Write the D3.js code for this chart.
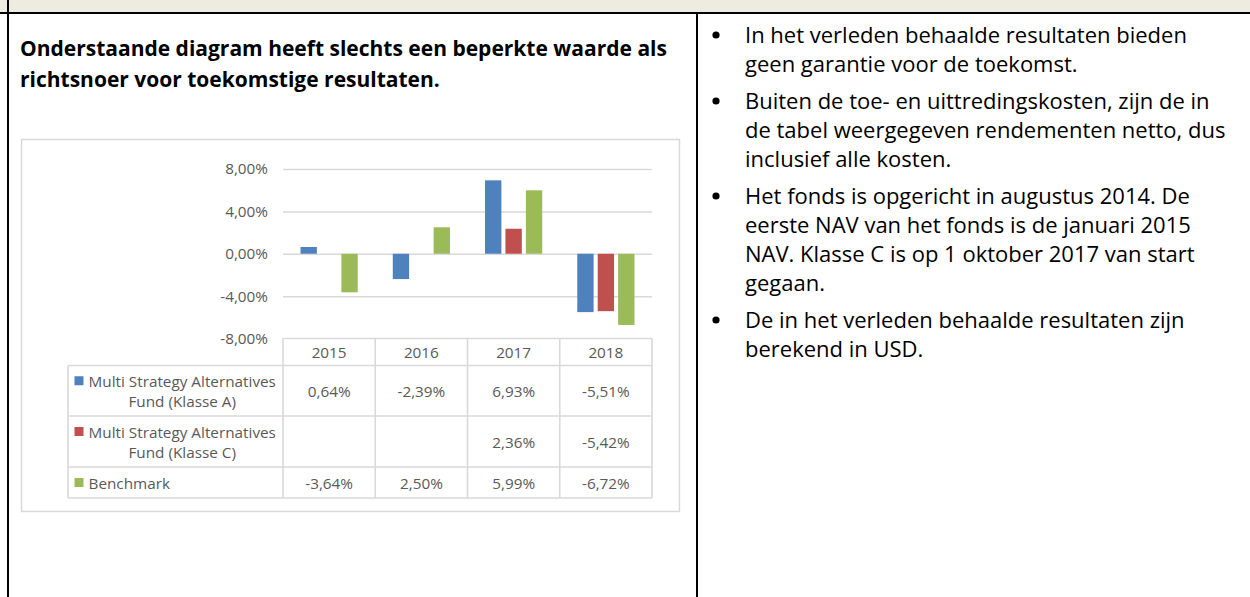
<!DOCTYPE html>
<html>
<head>
<meta charset="utf-8">
<script src="https://cdn.jsdelivr.net/npm/d3@7"></script>
<style>
  body { margin: 0; background: #fff; }
  svg { display: block; }
</style>
</head>
<body>
<div class="layout"></div>
<script>
// chart data
var years = ["2015", "2016", "2017", "2018"];
var seriesNames = [
  ["Multi Strategy Alternatives", "Fund (Klasse A)"],
  ["Multi Strategy Alternatives", "Fund (Klasse C)"],
  ["Benchmark"]
];
var seriesColors = ["#4f81bd", "#c0504d", "#9bbb59"];
var klasseA = [0.64, -2.39, 6.93, -5.51];
var klasseC = [null, null, 2.36, -5.42];
var benchmark = [-3.64, 2.50, 5.99, -6.72];
var yTicks = [-8, -4, 0, 4, 8];

var headingLines = [
  "Onderstaande diagram heeft slechts een beperkte waarde als",
  "richtsnoer voor toekomstige resultaten."
];
var bulletLines = [
  ["In het verleden behaalde resultaten bieden", "geen garantie voor de toekomst."],
  ["Buiten de toe- en uittredingskosten, zijn de in", "de tabel weergegeven rendementen netto, dus", "inclusief alle kosten."],
  ["Het fonds is opgericht in augustus 2014. De", "eerste NAV van het fonds is de januari 2015", "NAV. Klasse C is op 1 oktober 2017 van start", "gegaan."],
  ["De in het verleden behaalde resultaten zijn", "berekend in USD."]
];

var allSeries = [klasseA, klasseC, benchmark];

// dutch number format
var nl = d3.formatLocale({decimal: ",", thousands: ".", grouping: [3], currency: ["€", ""], minus: "-"});
var fmt = function (v) { return nl.format(".2f")(v) + "%"; };

var width = 1250, height = 597;
var svg = d3.select("div.layout")
  .append("svg")
  .attr("width", width)
  .attr("height", height)
  .style("font-family", "'Open Sans', sans-serif");

// page frame
svg.append("rect").attr("x", 0).attr("y", 0).attr("width", width).attr("height", 12).attr("fill", "#eeece1");
svg.append("rect").attr("x", 0).attr("y", 12).attr("width", width).attr("height", 2).attr("fill", "#000");
svg.append("rect").attr("x", 7).attr("y", 0).attr("width", 2).attr("height", height).attr("fill", "#000");
svg.append("rect").attr("x", 696).attr("y", 13).attr("width", 2).attr("height", height).attr("fill", "#000");

// heading
svg.selectAll("text.heading")
  .data(headingLines)
  .enter()
  .append("text")
  .attr("class", "heading")
  .attr("x", 20)
  .attr("y", function (d, i) { return 48 + i * 31; })
  .attr("dominant-baseline", "central")
  .attr("font-weight", "bold")
  .attr("font-size", "21px")
  .attr("fill", "#000")
  .text(function (d) { return d; });

// bullet list on the right
var lineY = [];
var yy = 34;
bulletLines.forEach(function (par, p) {
  par.forEach(function (line, i) {
    lineY.push({text: line, y: yy, first: i === 0});
    yy += 29;
  });
  yy += 8;
});

svg.selectAll("circle.bullet")
  .data(lineY.filter(function (d) { return d.first; }))
  .enter()
  .append("circle")
  .attr("class", "bullet")
  .attr("cx", 716)
  .attr("cy", function (d) { return d.y + 1; })
  .attr("r", 3.6)
  .attr("fill", "#000");

svg.selectAll("text.bulletline")
  .data(lineY)
  .enter()
  .append("text")
  .attr("class", "bulletline")
  .attr("x", 745)
  .attr("y", function (d) { return d.y; })
  .attr("dominant-baseline", "central")
  .attr("font-size", "22px")
  .attr("fill", "#000")
  .text(function (d) { return d.text; });

// chart frame
svg.append("rect")
  .attr("x", 21.5).attr("y", 139.5)
  .attr("width", 658).attr("height", 372)
  .attr("fill", "#fff")
  .attr("stroke", "#d9d9d9")
  .attr("stroke-width", 1.5);

var plotLeft = 283, plotRight = 652;
var x0 = d3.scaleBand().domain(years).range([plotLeft, plotRight]).paddingInner(0).paddingOuter(0);
var bw = x0.bandwidth();
var x1 = d3.scaleBand().domain([0, 1, 2]).range([bw * 0.19, bw * 0.81]).paddingInner(0.2);
var y = d3.scaleLinear().domain([-8, 8]).range([338.5, 169]);

// gridlines
svg.append("g")
  .attr("class", "grid")
  .attr("transform", "translate(" + plotLeft + ",0)")
  .call(d3.axisLeft(y).tickValues(yTicks.filter(function (t) { return t > -8; })).tickSize(-(plotRight - plotLeft)).tickFormat(""))
  .call(function (g) { g.select(".domain").remove(); })
  .selectAll("line")
  .attr("stroke", "#d9d9d9")
  .attr("stroke-width", 1.5);

// y axis labels
var yAxis = svg.append("g")
  .attr("class", "yAxis")
  .attr("transform", "translate(" + plotLeft + ",0)")
  .call(d3.axisLeft(y).tickValues(yTicks).tickSize(0).tickPadding(15).tickFormat(fmt));
yAxis.select(".domain").remove();
yAxis.selectAll("text")
  .attr("font-family", "'Open Sans', sans-serif")
  .attr("font-size", "15.3px")
  .attr("fill", "#595959");

// bars
var barData = [];
allSeries.forEach(function (vals, s) {
  vals.forEach(function (v, i) {
    if (v !== null) barData.push({series: s, year: years[i], value: v});
  });
});

svg.selectAll("rect.bar")
  .data(barData)
  .enter()
  .append("rect")
  .attr("class", "bar")
  .attr("x", function (d) { return x0(d.year) + x1(d.series); })
  .attr("y", function (d) { return y(Math.max(0, d.value)); })
  .attr("width", x1.bandwidth())
  .attr("height", function (d) { return Math.abs(y(d.value) - y(0)); })
  .attr("fill", function (d) { return seriesColors[d.series]; });

// data table
var tableLeft = 68;
var rowEdges = [y(-8), 365.5, 416, 467, 498];
var tbl = svg.append("g").attr("class", "table")
  .attr("stroke", "#d9d9d9").attr("stroke-width", 1.6).attr("fill", "none");

// horizontal lines
tbl.append("line").attr("x1", plotLeft).attr("x2", plotRight).attr("y1", rowEdges[0]).attr("y2", rowEdges[0]);
rowEdges.slice(1).forEach(function (ry) {
  tbl.append("line").attr("x1", tableLeft).attr("x2", plotRight).attr("y1", ry).attr("y2", ry);
});
// vertical lines
years.concat(["end"]).forEach(function (yr) {
  var cx = yr === "end" ? plotRight : x0(yr);
  tbl.append("line").attr("x1", cx).attr("x2", cx).attr("y1", rowEdges[0]).attr("y2", rowEdges[4]);
});
tbl.append("line").attr("x1", tableLeft).attr("x2", tableLeft).attr("y1", rowEdges[1]).attr("y2", rowEdges[4]);

// header years
svg.selectAll("text.year")
  .data(years)
  .enter()
  .append("text")
  .attr("class", "year")
  .attr("x", function (d) { return x0(d) + bw / 2; })
  .attr("y", (rowEdges[0] + rowEdges[1]) / 2)
  .attr("text-anchor", "middle")
  .attr("dominant-baseline", "central")
  .attr("font-size", "15.3px")
  .attr("fill", "#595959")
  .text(function (d) { return d; });

// table values
allSeries.forEach(function (vals, s) {
  var cy = (rowEdges[s + 1] + rowEdges[s + 2]) / 2;
  svg.selectAll("text.val" + s)
    .data(vals)
    .enter()
    .append("text")
    .attr("class", "val" + s)
    .attr("x", function (d, i) { return x0(years[i]) + bw / 2; })
    .attr("y", cy)
    .attr("text-anchor", "middle")
    .attr("dominant-baseline", "central")
    .attr("font-size", "15.3px")
    .attr("fill", "#595959")
    .text(function (d) { return d === null ? "" : fmt(d); });

  // legend key and row label
  var lines = seriesNames[s];
  var textLeft = 88.5;
  var firstY = lines.length > 1 ? cy - 10 : cy;
  svg.append("rect")
    .attr("x", 74.5)
    .attr("y", firstY - 4.5)
    .attr("width", 9)
    .attr("height", 9)
    .attr("fill", seriesColors[s]);

  var label = svg.append("text")
    .attr("font-size", "15.3px")
    .attr("fill", "#595959")
    .attr("dominant-baseline", "central");
  var first = label.append("tspan")
    .attr("x", textLeft)
    .attr("y", firstY)
    .text(lines[0]);
  if (lines.length > 1) {
    var w = first.node().getComputedTextLength();
    label.append("tspan")
      .attr("x", textLeft + w / 2)
      .attr("y", firstY + 20)
      .attr("text-anchor", "middle")
      .text(lines[1]);
  }
});
</script>
</body>
</html>
